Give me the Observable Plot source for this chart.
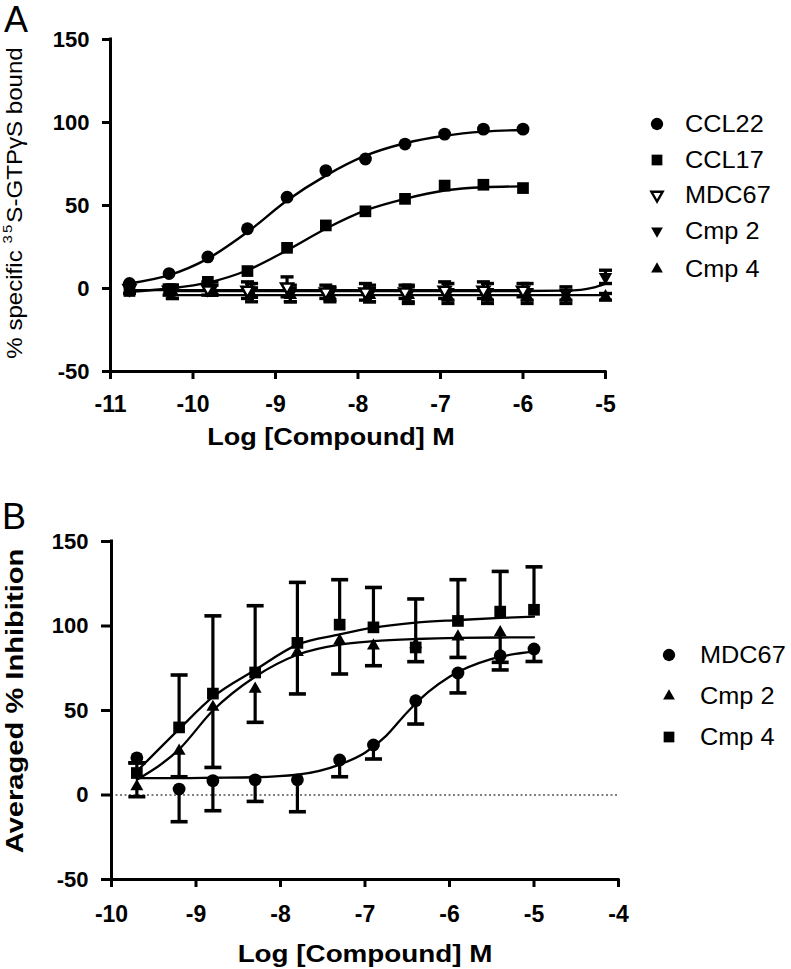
<!DOCTYPE html>
<html><head><meta charset="utf-8">
<script src="https://cdn.jsdelivr.net/npm/d3@7"></script>
<script src="https://cdn.jsdelivr.net/npm/@observablehq/plot@0.6"></script>
<style>
html,body{margin:0;padding:0;background:#fff;}
#wrap{position:relative;width:791px;height:969px;overflow:hidden;font-family:"Liberation Sans",Arial,Helvetica,sans-serif;color:#000;background:#fff;}
.lbl{position:absolute;white-space:nowrap;line-height:1;}
.lbl sup{font-size:0.62em;line-height:0;vertical-align:0.75em;letter-spacing:2px;}
</style></head><body><div id="wrap"></div>
<script>
// ================= Panel A data =================
const ticksXA = [-11, -10, -9, -8, -7, -6, -5];
const ticksY = [-50, 0, 50, 100, 150];
const xA = [-10.77, -10.29, -9.82, -9.34, -8.86, -8.39, -7.91, -7.43, -6.95, -6.48, -6.0];
const ccl22A = [3, 9, 19, 36, 55, 71, 78, 87, 93, 96, 96];
const ccl22FitA = [3, 8, 18, 34, 53, 68, 80, 87.5, 92, 94.5, 95.5];
const ccl17A = [-1.5, -0.5, 4, 10.5, 24.5, 38, 46.5, 54, 62, 62.5, 60.5];
const ccl17FitA = [-2, 0, 3.5, 11, 23, 36, 47, 54, 59, 61, 61.5];
const mdc67A = [0, -1, 0, -1, 1, -2, -2, -2, -1, -1, -1];
const mdc67ErrA = [3, 3, 4, 5, 6, 4, 5, 4, 5, 5, 4];
const xCmpA = [-10.25, -9.77, -9.29, -8.82, -8.34, -7.86, -7.39, -6.91, -6.43, -5.95, -5.48, -5.0];
const cmp2A = [-2, 0, -1, -3, -3, -3, -3, -2, -2, -2, -3, 7];
const cmp2ErrA = [4, 4, 4, 5, 4, 5, 5, 5, 5, 5, 4, 4];
const cmp4A = [-2, -1, -4, -4, -4, -4, -4, -5, -5, -5, -5, -5];
const cmp4ErrA = [4, 3, 4, 4, 4, 4, 5, 4, 4, 4, 4, 2];
const mdc67FitXA = [-10.77, -6.0];
const mdc67FitA = [-1, -1];
const cmp2FitXA = [-10.25, -8, -6, -5.5, -5.3, -5.15, -5.0];
const cmp2FitA = [-1.5, -1.5, -1.5, -1.3, -0.8, 0.5, 3];
const cmp4FitXA = [-10.25, -5.0];
const cmp4FitA = [-4, -4];
const legendA = ["CCL22", "CCL17", "MDC67", "Cmp 2", "Cmp 4"];

// ================= Panel B data =================
const ticksXB = [-10, -9, -8, -7, -6, -5, -4];
const xB = [-9.7, -9.2, -8.8, -8.3, -7.8, -7.3, -6.9, -6.4, -5.9, -5.4, -5.0];
const mdc67B = [22, 3.5, 8.5, 9, 9, 20.7, 29.6, 55.8, 72.2, 82.4, 86.4];
const mdc67LoB = [19, -15.8, -9.3, -3.8, -9.9, 10.8, 21.3, 42, 60.4, 78.5, 79];
const xCmp2B = [-9.7, -9.2, -8.8, -8.3, -7.8, -7.3, -6.9, -6.4, -5.9, -5.4];
const cmp2B = [5, 26, 52, 62.7, 84.4, 91.3, 88.3, 89, 93.7, 96.2];
const cmp2LoB = [-1, 10.8, 16.3, 43, 59.8, 71.6, 76.5, 78.9, 81.4, 74];
const cmp4B = [13, 40, 60, 72.5, 90, 100.8, 99.2, 87.3, 103, 108.5, 109.6];
const cmp4HiB = [19, 71, 106, 112, 125.8, 127.4, 122.8, 116, 127.4, 132.3, 135];
const fitXB = [-9.7, -9.2, -8.8, -8.3, -7.8, -7.3, -6.9, -6.4, -5.9, -5.4, -5.0];
const cmp4FitB = [14, 39, 58, 74, 89, 95, 99, 102, 103.5, 104.8, 105.5];
const cmp2FitB = [9, 27, 50, 70, 83, 89, 91, 92.3, 93, 93.2, 93.3];
const mdc67FitXB = [-9.7, -9.2, -8.8, -8.3, -7.8, -7.3, -7.0, -6.75, -6.5, -6.25, -6.0, -5.5, -5.0];
const mdc67FitB = [10, 10, 10.2, 10.5, 12, 18, 25, 35, 49, 61, 70, 80.5, 85];
const legendB = ["MDC67", "Cmp 2", "Cmp 4"];

// ================= helpers =================
const rows = (xs, ys, extra = {}) => xs.map((x, i) => {
  const r = {x, y: ys[i]};
  for (const k in extra) r[k] = extra[k][i];
  return r;
});
const capSym = (hw, ht) => ({draw(ctx) {
  ctx.moveTo(-hw, -ht); ctx.lineTo(hw, -ht); ctx.lineTo(hw, ht); ctx.lineTo(-hw, ht); ctx.closePath();
}});
const wrap = document.getElementById("wrap");
const baseStyle = {fontFamily: '"Liberation Sans", Arial, Helvetica, sans-serif', fontWeight: "bold", color: "black", background: "white", overflow: "visible"};

// ================= Panel A =================
const fitA = [
  ...rows(xA, ccl22FitA).map(d => ({...d, s: "CCL22"})),
  ...rows(xA, ccl17FitA).map(d => ({...d, s: "CCL17"})),
  ...rows(mdc67FitXA, mdc67FitA).map(d => ({...d, s: "MDC67"})),
  ...rows(cmp2FitXA, cmp2FitA).map(d => ({...d, s: "Cmp 2"})),
  ...rows(cmp4FitXA, cmp4FitA).map(d => ({...d, s: "Cmp 4"}))
];
const errA = [
  ...rows(xA, mdc67A, {e: mdc67ErrA}),
  ...rows(xCmpA, cmp2A, {e: cmp2ErrA}),
  ...rows(xCmpA, cmp4A, {e: cmp4ErrA})
].map(d => ({x: d.x, lo: d.y - d.e, hi: d.y + d.e}));
const capsA = errA.flatMap(d => [{x: d.x, y: d.lo}, {x: d.x, y: d.hi}]);

const plotA = Plot.plot({
  width: 791, height: 470,
  marginLeft: 110, marginRight: 186, marginTop: 39, marginBottom: 99,
  x: {domain: [-11, -5]},
  y: {domain: [-50, 150]},
  style: baseStyle,
  marks: [
    Plot.ruleX([-11], {strokeWidth: 3, strokeLinecap: "square"}),
    Plot.ruleY([-50], {strokeWidth: 3, strokeLinecap: "square"}),
    Plot.axisX({ticks: ticksXA, tickSize: 8, tickPadding: 16, fontSize: 23, strokeWidth: 3, label: null, tickFormat: d => String(d)}),
    Plot.axisY({ticks: ticksY, tickSize: 8, tickPadding: 13, fontSize: 22, strokeWidth: 3, label: null, tickFormat: d => String(d)}),
    Plot.line(fitA, {x: "x", y: "y", z: "s", curve: "monotone-x", stroke: "black", strokeWidth: 2.4}),
    Plot.ruleX(errA, {x: "x", y1: "lo", y2: "hi", stroke: "black", strokeWidth: 3.2}),
    Plot.dot(capsA, {x: "x", y: "y", symbol: capSym(6.5, 1.7), r: 5, fill: "black"}),
    Plot.dot(rows(xCmpA, cmp4A), {x: "x", y: "y", symbol: "triangle", r: 5, fill: "black"}),
    Plot.dot(rows(xCmpA, cmp2A), {x: "x", y: "y", symbol: "triangle", rotate: 180, r: 5, fill: "black"}),
    Plot.dot(rows(xA, mdc67A), {x: "x", y: "y", symbol: "triangle", rotate: 180, r: 4.4, fill: "white", stroke: "black", strokeWidth: 2.5}),
    Plot.dot(rows(xA, ccl17A), {x: "x", y: "y", symbol: "square", r: 6.6, fill: "black"}),
    Plot.dot(rows(xA, ccl22A), {x: "x", y: "y", symbol: "circle", r: 6.4, fill: "black"})
  ]
});
plotA.style.position = "absolute"; plotA.style.left = "0px"; plotA.style.top = "0px";
wrap.appendChild(plotA);

// ================= Panel B =================
const fitB = [
  ...rows(fitXB, cmp4FitB).map(d => ({...d, s: "Cmp 4"})),
  ...rows(fitXB, cmp2FitB).map(d => ({...d, s: "Cmp 2"})),
  ...rows(mdc67FitXB, mdc67FitB).map(d => ({...d, s: "MDC67"}))
];
const errB = [
  ...rows(xB, mdc67B, {e: mdc67LoB}),
  ...rows(xCmp2B, cmp2B, {e: cmp2LoB}),
  ...rows(xB, cmp4B, {e: cmp4HiB})
].map(d => ({x: d.x, y1: d.y, y2: d.e}));
const capsB = errB.map(d => ({x: d.x, y: d.y2}));

const plotB = Plot.plot({
  width: 791, height: 499,
  marginLeft: 111, marginRight: 173, marginTop: 71, marginBottom: 90,
  x: {domain: [-10, -4]},
  y: {domain: [-50, 150]},
  style: baseStyle,
  marks: [
    Plot.ruleY([0], {stroke: "black", strokeWidth: 1.2, strokeDasharray: "2,2.5"}),
    Plot.ruleX([-10], {strokeWidth: 3, strokeLinecap: "square"}),
    Plot.ruleY([-50], {strokeWidth: 3, strokeLinecap: "square"}),
    Plot.axisX({ticks: ticksXB, tickSize: 8, tickPadding: 18, fontSize: 23, strokeWidth: 3, label: null, tickFormat: d => String(d)}),
    Plot.axisY({ticks: ticksY, tickSize: 10, tickPadding: 13, fontSize: 22, strokeWidth: 3, label: null, tickFormat: d => String(d)}),
    Plot.line(fitB, {x: "x", y: "y", z: "s", curve: "monotone-x", stroke: "black", strokeWidth: 2.3}),
    Plot.ruleX(errB, {x: "x", y1: "y1", y2: "y2", stroke: "black", strokeWidth: 3.2}),
    Plot.dot(capsB, {x: "x", y: "y", symbol: capSym(8.5, 1.8), r: 5, fill: "black"}),
    Plot.dot(rows(xB, mdc67B), {x: "x", y: "y", symbol: "circle", r: 6.4, fill: "black"}),
    Plot.dot(rows(xCmp2B, cmp2B), {x: "x", y: "y", symbol: "triangle", r: 4.8, fill: "black"}),
    Plot.dot(rows(xB, cmp4B), {x: "x", y: "y", symbol: "square", r: 6.6, fill: "black"})
  ]
});
plotB.style.position = "absolute"; plotB.style.left = "0px"; plotB.style.top = "470px";
wrap.appendChild(plotB);

// ================= text overlays =================
function addText(html, cx, cy, o) {
  const d = document.createElement("div");
  d.className = "lbl";
  d.innerHTML = html;
  d.style.fontSize = o.size + "px";
  d.style.fontWeight = o.bold ? "bold" : "normal";
  d.style.left = "0px"; d.style.top = "0px";
  wrap.appendChild(d);
  const w = d.offsetWidth;
  const sx = o.len ? o.len / w : (o.sx || 1);
  d.style.left = cx + "px"; d.style.top = cy + "px";
  if (o.align === "left") {
    d.style.transformOrigin = "0 50%";
    d.style.transform = `translateY(-50%) scaleX(${sx})`;
  } else {
    d.style.transform = `translate(-50%,-50%) ${o.rotate ? "rotate(" + o.rotate + "deg) " : ""}scaleX(${sx})`;
  }
  return d;
}
addText("A", 16, 19.5, {size: 36});
addText("B", 14, 517, {size: 36});
addText("% specific <sup>35</sup>S-GTPγS bound", 14.5, 203, {size: 22, rotate: -90, len: 312});
addText("Averaged % Inhibition", 14.5, 701, {size: 23, bold: true, rotate: -90, len: 305});
addText("Log [Compound] M", 331, 437, {size: 23, bold: true, len: 248});
addText("Log [Compound] M", 364.5, 953.5, {size: 23, bold: true, len: 255});

// legends
const ov = d3.select(wrap).append("svg")
  .attr("width", 791).attr("height", 969)
  .style("position", "absolute").style("left", 0).style("top", 0).style("pointer-events", "none");
function sym(type, x, y, size, rot, fill, stroke) {
  ov.append("path").attr("d", d3.symbol(type, size)())
    .attr("transform", `translate(${x},${y}) rotate(${rot})`)
    .attr("fill", fill).attr("stroke", stroke || "none").attr("stroke-width", stroke ? 2.4 : 0);
}
const legAy = [124, 160, 195, 231, 269];
const legAsym = [[d3.symbolCircle, 0, "black"], [d3.symbolSquare, 0, "black"], [d3.symbolTriangle, 180, "white", "black"], [d3.symbolTriangle, 180, "black"], [d3.symbolTriangle, 0, "black"]];
legendA.forEach((t, i) => {
  const [ty, rot, f, s] = legAsym[i];
  const size = ty === d3.symbolCircle ? 120 : ty === d3.symbolSquare ? 115 : (s ? 55 : 60);
  sym(ty, 657, legAy[i], size, rot, f, s);
  addText(t, 685, legAy[i], {size: 23, align: "left", sx: 1.1});
});
const legBy = [655, 696, 737];
const legBsym = [[d3.symbolCircle, 0], [d3.symbolTriangle, 0], [d3.symbolSquare, 0]];
legendB.forEach((t, i) => {
  const [ty, rot] = legBsym[i];
  const size = ty === d3.symbolCircle ? 120 : ty === d3.symbolSquare ? 115 : 60;
  sym(ty, 669, legBy[i], size, rot, "black");
  addText(t, 700, legBy[i], {size: 23, align: "left", sx: 1.1});
});
</script></body></html>
